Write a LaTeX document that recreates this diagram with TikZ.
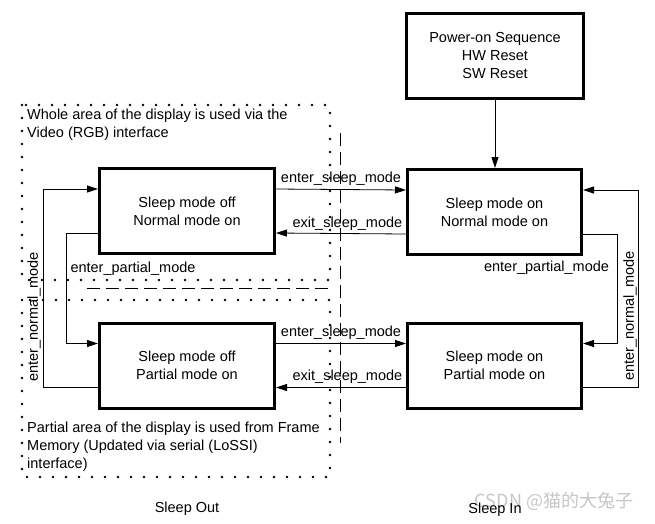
\documentclass[tikz,border=0pt]{standalone}
\usepackage{fontspec}
\setmainfont{Liberation Sans}
\newfontfamily\cjk{Noto Sans CJK SC}
\usetikzlibrary{arrows.meta}
\begin{document}
\begin{tikzpicture}[x=1pt,y=-1pt,
    font=\fontsize{14.5}{18}\selectfont,
    >={Triangle[length=11pt,width=7pt]},
    state/.style={draw,line width=3pt,minimum width=175pt,minimum height=85pt,align=center,inner sep=0pt},
    wire/.style={line width=0.8pt},
    dotbox/.style={line width=2.6pt,dash pattern=on 0pt off 13pt,line cap=round},
    dashline/.style={line width=0.8pt,dash pattern=on 13pt off 6pt}]
    \useasboundingbox (0,0) rectangle (655,523);
    % display areas
    \draw[dotbox] (22,105) rectangle (330,280);
    \draw[dotbox] (22,300) rectangle (330,477);
    \draw[dashline] (87,288) -- (334,288);
    \draw[dashline] (340,133) -- (340,443);
    \node[anchor=north west,inner sep=0pt,align=left] (whole) at (27,109) {Whole area of the display is used via the\\Video (RGB) interface};
    \node[anchor=north west,inner sep=0pt,align=left] (part) at (27,421.5) {Partial area of the display is used from Frame\\Memory (Updated via serial (LoSSI)\\interface)};
    % states
    \node[state,minimum width=177pt] (pwr) at (495,56) {Power-on Sequence\\HW Reset\\SW Reset};
    \node[state] (offnorm) at (187,211) {Sleep mode off\\Normal mode on};
    \node[state,minimum width=174pt] (onnorm) at (494.5,212) {Sleep mode on\\Normal mode on};
    \node[state] (offpart) at (187,365.5) {Sleep mode off\\Partial mode on};
    \node[state,minimum width=174pt] (onpart) at (494.5,365.5) {Sleep mode on\\Partial mode on};
    % transitions
    \draw[wire,->] (pwr.south) -- (pwr.south |- onnorm.north);
    \draw[wire,->] ([yshift=22pt]offnorm.east) -- node[above] {enter\_sleep\_mode} ([yshift=22pt]onnorm.west);
    \draw[wire,->] ([yshift=-22pt]onnorm.west) -- node[pos=0,above left] {exit\_sleep\_mode} ([yshift=-22pt]offnorm.east);
    \draw[wire,->] ([yshift=22pt]offpart.east) -- node[above] {enter\_sleep\_mode} ([yshift=22pt]onpart.west);
    \draw[wire,->] ([yshift=-22pt]onpart.west) -- node[pos=0,above left] {exit\_sleep\_mode} ([yshift=-22pt]offpart.east);
    \draw[wire,->] ([yshift=-22pt]offnorm.west) -- ++(-32,0) |- ([yshift=22pt]offpart.west);
    \draw[wire,->] ([yshift=-22pt]offpart.west) -- ++(-55,0) |- ([yshift=22pt]offnorm.west);
    \draw[wire,->] ([yshift=-22pt]onnorm.east) -- ++(34,0) |- ([yshift=22pt]onpart.east);
    \draw[wire,->] ([yshift=-22pt]onpart.east) -- ++(55,0) |- ([yshift=22pt]onnorm.east);
    \node (lpl) at (133,269) {enter\_partial\_mode};
    \node (rpl) at (546.5,268) {enter\_partial\_mode};
    \node[rotate=90] (lnm) at (34,317) {enter\_normal\_mode};
    \node[rotate=90] (rnm) at (630,316) {enter\_normal\_mode};
    % captions
    \node[text=gray!45,font=\cjk\fontsize{18}{20}\selectfont] (mark) at (554,501) {CSDN @猫的大兔子};
    \node (sout) at (187,509) {Sleep Out};
    \node (sin) at (495,510) {Sleep In};
\end{tikzpicture}
\end{document}
